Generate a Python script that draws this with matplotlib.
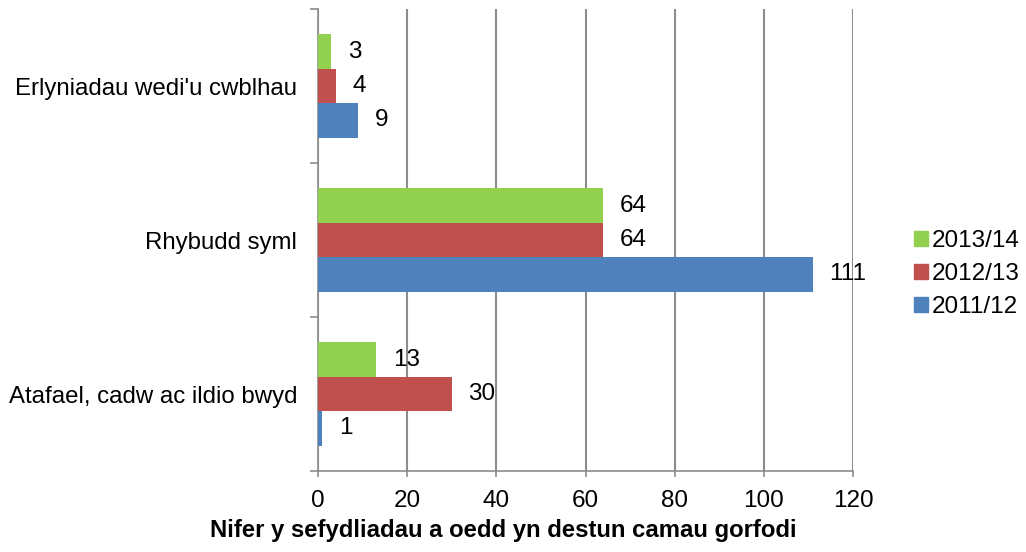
import numpy as np
import matplotlib.pyplot as plt
from matplotlib.patches import Patch

plt.rcParams['font.family'] = ['Liberation Sans', 'DejaVu Sans']

categories = ['Atafael, cadw ac ildio bwyd', 'Rhybudd syml', "Erlyniadau wedi'u cwblhau"]
series_names = ['2011/12', '2012/13', '2013/14']
values_2011 = [1, 111, 9]
values_2012 = [30, 64, 4]
values_2013 = [13, 64, 3]
xticks = [0, 20, 40, 60, 80, 100, 120]
xlabel = 'Nifer y sefydliadau a oedd yn destun camau gorfodi'

colors = ['#4F81BD', '#C0504D', '#92D050']
series = [values_2011, values_2012, values_2013]
grey = '#8c8c8c'

fig = plt.figure(figsize=(10.26, 5.52), dpi=100)
ax = fig.add_axes([318 / 1026, 1 - 471 / 552, 535 / 1026, 462 / 552])

y = np.arange(len(categories))
bh = 0.224
offsets = [-bh, 0, bh]
for vals, off, col in zip(series, offsets, colors):
    ax.barh(y + off, vals, height=bh, color=col, zorder=3)
    for yi, v in zip(y, vals):
        ax.annotate(str(v), (v, yi + off), xytext=(12, 0), textcoords='offset points',
                    ha='left', va='center', fontsize=17.5, zorder=4)

ax.set_xlim(0, 120)
ax.set_ylim(-0.5, 2.5)
ax.set_xticks(xticks)
ax.tick_params(axis='x', length=4.5, width=1.2, color=grey, labelsize=17.5, pad=9)
ax.grid(axis='x', color=grey, linewidth=1.5, zorder=0)

# category labels sit between the separator ticks
ax.set_yticks([-0.5, 0.5, 1.5, 2.5])
ax.set_yticklabels([])
ax.set_yticks(y, minor=True)
ax.set_yticklabels(categories, minor=True, fontsize=17.3)
ax.tick_params(axis='y', which='major', length=6, width=1.2, color=grey)
ax.tick_params(axis='y', which='minor', length=0, pad=15)

for side in ['top', 'right']:
    ax.spines[side].set_visible(False)
for side in ['left', 'bottom']:
    ax.spines[side].set_color(grey)
    ax.spines[side].set_linewidth(1.2)

fig.text(503.5 / 1026, 1 - 531 / 552, xlabel, fontsize=17.2, fontweight='bold',
         ha='center', va='center')

handles = [Patch(color=c) for c in colors[::-1]]
fig.legend(handles, series_names[::-1], loc='center left', bbox_to_anchor=(0.870, 0.5036),
           frameon=False, fontsize=17.5, handlelength=0.55, handleheight=0.55,
           handletextpad=0.18, labelspacing=0.45)

fig.savefig('out.png', dpi=100)
